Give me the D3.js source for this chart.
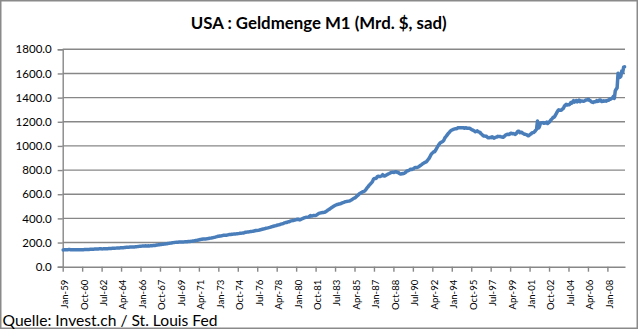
<!DOCTYPE html>
<html>
<head>
<meta charset="utf-8">
<script src="https://cdn.jsdelivr.net/npm/d3@7"></script>
<style>
  html, body { margin: 0; padding: 0; background: #fff; }
  svg { display: block; }
</style>
</head>
<body>
<svg id="chart" width="640" height="330"></svg>
<script>
// ---------------- DATA ----------------
const titleText = "USA : Geldmenge M1 (Mrd. $, sad)";
const sourceText = "Quelle: Invest.ch / St. Louis Fed";
const startYear = 1959; // first category: Jan-59, monthly categories
const yTicks = [0, 200, 400, 600, 800, 1000, 1200, 1400, 1600, 1800];
const xTickLabels = ["Jan-59","Oct-60","Jul-62","Apr-64","Jan-66","Oct-67","Jul-69","Apr-71","Jan-73","Oct-74",
  "Jul-76","Apr-78","Jan-80","Oct-81","Jul-83","Apr-85","Jan-87","Oct-88","Jul-90","Apr-92",
  "Jan-94","Oct-95","Jul-97","Apr-99","Jan-01","Oct-02","Jul-04","Apr-06","Jan-08"];
const tickEvery = 21; // months between labelled categories

// M1 money stock, monthly, billions of $ (seasonally adjusted), Jan 1959 - Jul 2009
const m1 = [
  138.9,139.4,139.7,139.7,140.7,141.2,141.7,141.9,141.0,140.5,140.4,140.0, // 1959
  140.0,139.9,139.8,139.6,139.6,139.6,140.2,140.9,141.1,140.9,141.2,141.8, // 1960
  141.8,142.2,142.6,142.9,143.4,143.8,144.1,144.6,145.0,145.4,145.9,146.5, // 1961
  146.6,146.9,147.3,147.6,147.7,147.6,147.5,147.6,147.9,148.2,148.7,149.2, // 1962
  149.6,150.1,150.5,151.0,151.5,152.0,152.5,152.9,153.3,153.8,154.3,154.7, // 1963
  155.1,155.5,155.9,156.4,156.9,157.6,158.4,159.2,160.1,160.8,161.4,161.9, // 1964
  162.3,162.5,162.9,163.2,163.4,164.0,164.7,165.3,166.3,167.3,168.4,169.5, // 1965
  170.3,170.8,171.5,172.3,172.3,172.5,171.9,172.1,172.6,172.3,172.9,173.7, // 1966
  174.3,175.0,176.5,176.3,177.6,178.9,180.2,181.4,182.4,183.4,184.2,185.1, // 1967
  186.1,187.0,188.1,189.3,190.8,192.1,193.2,194.3,195.3,196.6,198.0,199.4, // 1968
  200.6,201.4,202.2,202.8,203.2,203.6,203.9,203.8,204.2,204.8,205.3,205.8, // 1969
  206.6,206.1,206.9,208.0,208.6,209.1,209.8,211.1,212.4,213.2,214.3,216.5, // 1970
  217.8,219.5,221.3,222.6,224.8,226.6,227.8,229.0,229.6,229.8,230.1,230.7, // 1971
  232.5,234.2,235.6,236.7,237.7,239.0,241.1,243.0,244.4,246.6,248.6,251.9, // 1972
  252.7,254.3,254.6,256.1,257.8,259.7,260.5,260.4,260.6,261.9,263.9,265.8, // 1973
  266.5,267.2,268.6,269.5,270.2,271.1,271.6,272.0,272.8,274.0,275.6,277.4, // 1974
  277.0,278.0,279.4,279.6,283.0,285.6,286.2,287.4,288.3,288.8,290.9,291.0, // 1975
  292.5,294.0,295.0,297.4,299.3,299.1,300.6,301.9,303.4,306.2,307.5,310.4, // 1976
  312.3,313.8,315.6,318.5,319.5,321.3,323.7,325.5,328.0,330.4,331.9,335.4, // 1977
  337.5,338.3,339.9,344.0,346.0,347.0,349.3,351.8,354.2,356.1,359.4,363.1, // 1978
  365.2,366.0,368.4,372.4,372.2,376.9,379.3,381.1,383.6,383.0,385.2,389.0, // 1979
  390.6,393.1,392.5,387.7,389.3,393.0,396.9,400.6,404.0,406.4,408.8,408.5, // 1980
  410.6,413.0,416.9,424.0,420.2,420.4,423.1,424.2,423.0,425.4,429.8,436.7, // 1981
  441.0,443.2,445.3,447.2,448.4,449.5,450.2,453.8,458.5,463.7,469.9,474.8, // 1982
  478.9,484.4,491.3,494.4,501.0,505.4,509.0,512.6,514.6,517.4,519.7,521.4, // 1983
  523.4,527.3,530.1,532.7,536.0,538.9,540.0,541.1,542.9,543.8,547.5,551.6, // 1984
  556.2,562.8,566.8,569.9,576.2,583.8,590.0,597.8,605.9,609.5,614.1,619.8, // 1985
  620.4,624.3,631.5,641.0,652.0,660.7,670.9,679.6,688.1,696.8,706.5,724.7, // 1986
  730.0,729.5,733.2,744.5,749.5,746.9,746.9,749.6,752.6,761.6,754.3,750.2, // 1987
  755.2,759.6,764.0,767.9,771.5,775.8,779.3,781.0,781.1,780.7,784.4,786.7, // 1988
  784.5,779.9,779.1,772.0,768.0,768.4,771.7,770.4,772.6,777.6,783.2,792.9, // 1989
  794.0,797.3,801.0,806.7,804.0,807.9,809.9,816.8,820.9,821.4,822.0,824.7, // 1990
  827.8,834.0,840.0,845.0,852.5,856.5,862.0,864.8,868.5,877.0,887.2,897.0, // 1991
  911.2,926.4,936.9,943.9,951.0,952.0,963.7,977.5,991.0,1003.9,1015.2,1024.9, // 1992
  1030.1,1033.1,1038.5,1048.4,1066.2,1075.6,1085.6,1095.8,1105.7,1113.1,1123.3,1129.6, // 1993
  1132.4,1136.4,1139.4,1141.8,1142.2,1143.7,1149.8,1151.1,1150.6,1150.0,1150.0,1150.7, // 1994
  1151.0,1147.1,1148.5,1150.9,1146.3,1147.1,1146.8,1145.5,1140.4,1134.8,1131.9,1127.4, // 1995
  1122.6,1117.5,1122.5,1124.7,1116.2,1115.1,1112.3,1101.3,1095.6,1086.9,1081.6,1081.3, // 1996
  1080.5,1079.6,1071.1,1066.8,1068.2,1070.0,1068.5,1075.2,1070.8,1064.1,1067.7,1072.8, // 1997
  1073.3,1079.4,1077.3,1077.6,1077.1,1073.7,1073.4,1071.3,1076.6,1086.2,1092.1,1095.0, // 1998
  1096.7,1094.1,1097.5,1104.5,1104.6,1099.8,1101.9,1099.1,1095.5,1101.7,1112.6,1122.2, // 1999
  1122.5,1109.9,1110.2,1113.2,1105.0,1101.6,1097.2,1096.3,1093.8,1089.2,1083.4,1087.6, // 2000
  1095.2,1098.8,1107.3,1110.0,1111.2,1118.6,1128.9,1137.3,1205.7,1147.6,1156.6,1181.7, // 2001
  1190.6,1191.0,1193.1,1187.5,1189.1,1191.8,1197.8,1186.2,1193.0,1199.6,1209.4,1219.2, // 2002
  1226.4,1237.5,1238.0,1248.7,1262.6,1277.3,1291.0,1298.6,1295.0,1294.5,1298.2,1305.5, // 2003
  1310.8,1328.6,1337.0,1344.0,1338.6,1342.0,1340.9,1345.8,1359.6,1354.1,1365.5,1375.3, // 2004
  1363.2,1370.4,1375.4,1364.6,1369.4,1379.8,1366.6,1373.0,1372.1,1370.8,1369.9,1373.9, // 2005
  1379.4,1380.2,1382.2,1386.9,1377.7,1374.7,1366.5,1362.8,1359.6,1365.5,1366.3,1365.9, // 2006
  1374.9,1368.4,1371.7,1380.5,1380.6,1368.6,1367.4,1374.2,1370.3,1372.6,1370.7,1374.6, // 2007
  1378.9,1379.1,1388.6,1386.5,1392.9,1397.7,1410.2,1393.4,1456.3,1470.5,1480.6,1602.5, // 2008
  1578.0,1567.2,1575.6,1620.0,1607.5,1651.9,1654.9                                     // 2009
];

// ---------------- LAYOUT ----------------
const W = 640, H = 330;
const plot = { left: 62.7, right: 625, top: 49.3, bottom: 266.7 };
const gridColor = "#878787";
const lineColor = "#4A7EBB";

const svg = d3.select("#chart");

// outer chart border
svg.append("rect")
  .attr("x", 0.75).attr("y", 0.75)
  .attr("width", 636.5).attr("height", 327.5)
  .attr("fill", "#fff")
  .attr("stroke", "#8a8a8a").attr("stroke-width", 1.5);

const N = m1.length;
const x = d3.scaleLinear().domain([0, N]).range([plot.left, plot.right]);
const y = d3.scaleLinear().domain([0, 1800]).range([plot.bottom, plot.top]);

// gridlines
svg.append("g").selectAll("line")
  .data(yTicks.filter(d => d > 0))
  .join("line")
  .attr("x1", plot.left).attr("x2", plot.right)
  .attr("y1", d => y(d)).attr("y2", d => y(d))
  .attr("stroke", gridColor).attr("stroke-width", 1.4);

// y axis
const yAxis = svg.append("g")
  .attr("transform", `translate(${plot.left},0)`)
  .call(d3.axisLeft(y).tickValues(yTicks).tickFormat(d3.format(".1f")).tickSize(5).tickPadding(6));
yAxis.select(".domain").attr("stroke", gridColor).attr("stroke-width", 1.4);
yAxis.selectAll(".tick line").attr("stroke", gridColor).attr("stroke-width", 1.4);
yAxis.selectAll("text")
  .attr("fill", "#000")
  .style("font-family", "Lato, 'Open Sans', sans-serif")
  .style("font-size", "11.5px");

// x axis
const tickIdx = xTickLabels.map((_, i) => i * tickEvery);
const xAxis = svg.append("g")
  .attr("transform", `translate(0,${plot.bottom})`)
  .call(d3.axisBottom(x).tickValues(tickIdx).tickSize(5).tickSizeOuter(0)
        .tickFormat((d, i) => xTickLabels[i]));
xAxis.select(".domain").attr("stroke", gridColor).attr("stroke-width", 1.4);
xAxis.selectAll(".tick line").attr("stroke", gridColor).attr("stroke-width", 1.4);
xAxis.selectAll("text")
  .attr("fill", "#000")
  .attr("transform", "rotate(-90)")
  .attr("x", -13)
  .attr("y", 1.5)
  .attr("dy", "0.35em")
  .style("text-anchor", "end")
  .style("font-family", "Lato, 'Open Sans', sans-serif")
  .style("font-size", "9.6px");

// series line
const line = d3.line()
  .x((d, i) => x(i + 0.5))
  .y(d => y(d));
svg.append("path")
  .datum(m1)
  .attr("d", line)
  .attr("fill", "none")
  .attr("stroke", lineColor)
  .attr("stroke-width", 3.5)
  .attr("stroke-linejoin", "round")
  .attr("stroke-linecap", "round");

// title
function fitText(sel, target) {
  const len = sel.node().getComputedTextLength();
  const fs = parseFloat(sel.style("font-size"));
  if (len > 0) sel.style("font-size", (fs * target / len).toFixed(2) + "px");
}
const title = svg.append("text")
  .attr("x", 318.7).attr("y", 28.5)
  .attr("text-anchor", "middle")
  .style("font-family", "Lato, 'Open Sans', sans-serif")
  .style("font-weight", "bold")
  .style("font-size", "18px")
  .attr("fill", "#000")
  .text(titleText);
fitText(title, 256);

// source
const src = svg.append("text")
  .attr("x", 2.5).attr("y", 325.5)
  .style("font-family", "Lato, 'Open Sans', sans-serif")
  .style("font-size", "12px")
  .attr("fill", "#000")
  .text(sourceText);
fitText(src, 215);
</script>
</body>
</html>
